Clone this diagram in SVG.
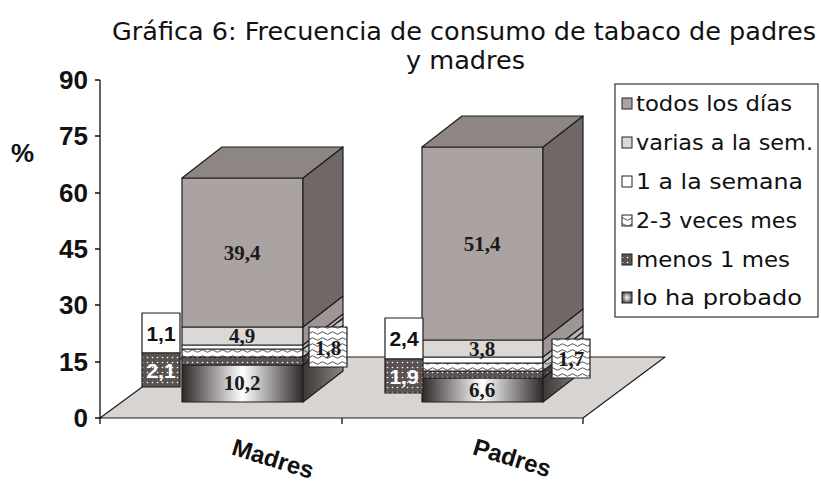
<svg xmlns="http://www.w3.org/2000/svg" width="821" height="487" viewBox="0 0 821 487">
<defs>
  <pattern id="dots" width="5" height="5" patternUnits="userSpaceOnUse">
    <rect width="5" height="5" fill="#5a5351"/>
    <circle cx="2.5" cy="2.5" r="0.8" fill="#ffffff"/>
  </pattern>
  <pattern id="dotsSide" width="5" height="5" patternUnits="userSpaceOnUse">
    <rect width="5" height="5" fill="#463f3e"/>
    <circle cx="2.5" cy="2.5" r="0.7" fill="#bbbbbb"/>
  </pattern>
  <pattern id="wave" width="10" height="6" patternUnits="userSpaceOnUse">
    <rect width="10" height="6" fill="#ffffff"/>
    <path d="M0 3 Q2.5 0.5 5 3 T10 3" fill="none" stroke="#222" stroke-width="0.8"/>
  </pattern>
  <pattern id="waveSide" width="10" height="6" patternUnits="userSpaceOnUse">
    <rect width="10" height="6" fill="#c9c5c3"/>
    <path d="M0 3 Q2.5 0.5 5 3 T10 3" fill="none" stroke="#333" stroke-width="0.8"/>
  </pattern>
  <linearGradient id="grad" x1="0" y1="0" x2="1" y2="0">
    <stop offset="0" stop-color="#2e2827"/>
    <stop offset="0.5" stop-color="#ffffff"/>
    <stop offset="1" stop-color="#2e2827"/>
  </linearGradient>
  <linearGradient id="gradSide" x1="0" y1="0" x2="1" y2="0">
    <stop offset="0" stop-color="#3d3736"/>
    <stop offset="1" stop-color="#8a8381"/>
  </linearGradient>
  <radialGradient id="gradLeg" cx="0.5" cy="0.5" r="0.6">
    <stop offset="0" stop-color="#ffffff"/>
    <stop offset="1" stop-color="#3a3433"/>
  </radialGradient>
  <style>
    .edge{stroke:#1e1e1e;stroke-width:1.2;stroke-linejoin:round}
    .todos{fill:#aba3a1}
    .todosS{fill:#706866}
    .todosT{fill:#8e8683}
    .varias{fill:#dcd8d6}
    .variasS{fill:#9d9694}
    .sem{fill:#ffffff}
    .semS{fill:#bdb8b6}
    .ax{font-family:"Liberation Sans",Arial,sans-serif;font-weight:bold;font-size:26px;fill:#111}
    .lbl{font-family:"Liberation Serif","Times New Roman",serif;font-weight:bold;font-size:21px;fill:#1a1a1a;text-anchor:middle}
    .box{font-family:"Liberation Sans",Arial,sans-serif;font-weight:bold;font-size:21px;fill:#111;text-anchor:middle}
    .leg{font-family:"DejaVu Sans","Liberation Sans",sans-serif;font-size:21px;fill:#111}
    .ttl{font-family:"DejaVu Sans","Liberation Sans",sans-serif;font-size:25px;fill:#111}
    .cat{font-family:"Liberation Sans",Arial,sans-serif;font-weight:bold;font-size:24px;fill:#111;text-anchor:middle}
  </style>
</defs>

<g id="title">
  <text class="ttl" x="112" y="40" textLength="704" lengthAdjust="spacingAndGlyphs">Gráfica 6: Frecuencia de consumo de tabaco de padres</text>
  <text class="ttl" x="406" y="69" textLength="119" lengthAdjust="spacingAndGlyphs">y madres</text>
</g>

<g id="floor">
  <polygon points="100,418 183,357 665,357 583,418" fill="#d8d4d1" class="edge"/>
</g>

<g id="axis">
  <line x1="100" y1="80" x2="100" y2="419" stroke="#111" stroke-width="1.3"/>
  <path d="M95 80H100M95 136H100M95 193H100M95 249H100M95 305H100M95 362H100M95 418H100M100 418V424M342 418V424M583 418V424" stroke="#111" stroke-width="1.3" fill="none"/>
  <text class="ax" x="88" y="89" text-anchor="end">90</text>
  <text class="ax" x="88" y="145" text-anchor="end">75</text>
  <text class="ax" x="88" y="202" text-anchor="end">60</text>
  <text class="ax" x="88" y="258" text-anchor="end">45</text>
  <text class="ax" x="88" y="314" text-anchor="end">30</text>
  <text class="ax" x="88" y="371" text-anchor="end">15</text>
  <text class="ax" x="88" y="427" text-anchor="end">0</text>
  <text class="ax" x="11" y="162">%</text>
</g>

<g id="bar-madres">
  <rect x="182" y="365" width="121" height="37" fill="url(#grad)" class="edge"/>
  <polygon points="303,402 303,365 343,334 343,371" fill="url(#gradSide)" class="edge"/>
  <rect x="182" y="357" width="121" height="8" fill="url(#dots)" class="edge"/>
  <polygon points="303,365 303,357 343,326 343,334" fill="url(#dotsSide)" class="edge"/>
  <rect x="182" y="349" width="121" height="8" fill="url(#wave)" class="edge"/>
  <polygon points="303,357 303,349 343,318 343,326" fill="url(#waveSide)" class="edge"/>
  <rect x="182" y="345" width="121" height="4" class="sem edge"/>
  <polygon points="303,349 303,345 343,314 343,318" class="semS edge"/>
  <rect x="182" y="327" width="121" height="18" class="varias edge"/>
  <polygon points="303,345 303,327 343,296 343,314" class="variasS edge"/>
  <rect x="182" y="178" width="121" height="149" class="todos edge"/>
  <polygon points="303,327 303,178 343,147 343,296" class="todosS edge"/>
  <polygon points="182,178 222,147 343,147 303,178" class="todosT edge"/>
  <text class="lbl" x="242" y="260">39,4</text>
  <text class="lbl" x="242" y="343">4,9</text>
  <text class="lbl" x="242" y="390">10,2</text>
</g>

<g id="bar-padres">
  <rect x="422" y="378" width="121" height="24" fill="url(#grad)" class="edge"/>
  <polygon points="543,402 543,378 583,347 583,371" fill="url(#gradSide)" class="edge"/>
  <rect x="422" y="371" width="121" height="7" fill="url(#dots)" class="edge"/>
  <polygon points="543,378 543,371 583,340 583,347" fill="url(#dotsSide)" class="edge"/>
  <rect x="422" y="363" width="121" height="8" fill="url(#wave)" class="edge"/>
  <polygon points="543,371 543,363 583,332 583,340" fill="url(#waveSide)" class="edge"/>
  <rect x="422" y="357" width="121" height="6" class="sem edge"/>
  <polygon points="543,363 543,357 583,326 583,332" class="semS edge"/>
  <rect x="422" y="340" width="121" height="17" class="varias edge"/>
  <polygon points="543,357 543,340 583,309 583,326" class="variasS edge"/>
  <rect x="422" y="147" width="121" height="193" class="todos edge"/>
  <polygon points="543,340 543,147 583,116 583,309" class="todosS edge"/>
  <polygon points="422,147 462,116 583,116 543,147" class="todosT edge"/>
  <text class="lbl" x="482" y="251">51,4</text>
  <text class="lbl" x="482" y="356">3,8</text>
  <text class="lbl" x="482" y="397">6,6</text>
</g>

<g id="labels-madres">
  <rect x="142" y="313" width="38" height="40" fill="#fff" class="edge"/>
  <text class="box" x="161" y="341">1,1</text>
  <rect x="142" y="353" width="38" height="34" fill="url(#dots)" class="edge"/>
  <text class="box" x="161" y="378" style="fill:#fff">2,1</text>
  <rect x="309" y="327" width="38" height="40" fill="url(#wave)" class="edge"/>
  <text class="lbl" x="328" y="355">1,8</text>
</g>

<g id="labels-padres">
  <rect x="385" y="318" width="38" height="41" fill="#fff" class="edge"/>
  <text class="box" x="404" y="346">2,4</text>
  <rect x="385" y="359" width="38" height="34" fill="url(#dots)" class="edge"/>
  <text class="box" x="404" y="384" style="fill:#fff">1,9</text>
  <rect x="552" y="339" width="38" height="39" fill="url(#wave)" class="edge"/>
  <text class="lbl" x="571" y="366">1,7</text>
</g>

<g id="categories">
  <text class="cat" x="273" y="467" transform="rotate(17 273 459)">Madres</text>
  <text class="cat" x="512" y="466" transform="rotate(17 512 458)">Padres</text>
</g>

<g id="legend">
  <rect x="615" y="84" width="203" height="233" fill="#fff" stroke="#333" stroke-width="1.2"/>
  <rect x="622" y="98" width="10" height="11" class="todos" stroke="#222" stroke-width="1"/>
  <text class="leg" x="636" y="111" textLength="156" lengthAdjust="spacingAndGlyphs">todos los días</text>
  <rect x="622" y="137" width="10" height="11" class="varias" stroke="#222" stroke-width="1"/>
  <text class="leg" x="636" y="150" textLength="177" lengthAdjust="spacingAndGlyphs">varias a la sem.</text>
  <rect x="622" y="176" width="10" height="11" fill="#fff" stroke="#222" stroke-width="1"/>
  <text class="leg" x="636" y="189" textLength="167" lengthAdjust="spacingAndGlyphs">1 a la semana</text>
  <rect x="622" y="215" width="10" height="11" fill="url(#wave)" stroke="#222" stroke-width="1"/>
  <text class="leg" x="636" y="228" textLength="161" lengthAdjust="spacingAndGlyphs">2-3 veces mes</text>
  <rect x="622" y="254" width="10" height="11" fill="url(#dots)" stroke="#222" stroke-width="1"/>
  <text class="leg" x="636" y="267" textLength="154" lengthAdjust="spacingAndGlyphs">menos  1 mes</text>
  <rect x="622" y="292" width="10" height="11" fill="url(#gradLeg)" stroke="#222" stroke-width="1"/>
  <text class="leg" x="636" y="305" textLength="166" lengthAdjust="spacingAndGlyphs">lo ha probado</text>
</g>
</svg>
